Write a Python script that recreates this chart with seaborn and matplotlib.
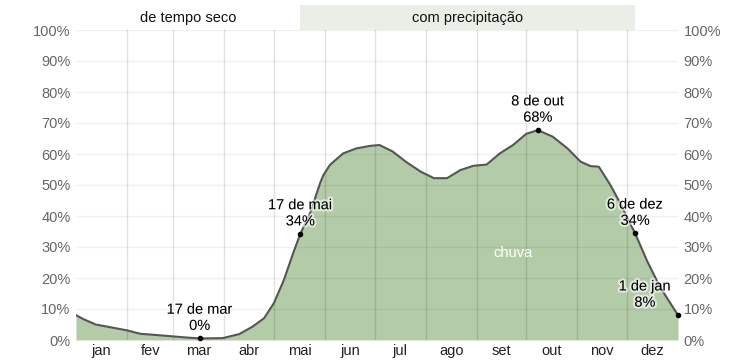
import matplotlib
matplotlib.use("Agg")
import matplotlib.pyplot as plt
import matplotlib.patheffects as pe
import matplotlib.transforms as mtransforms
import seaborn as sns
import pandas as pd

# day of year (0 = 1 jan) and chance of precipitation (%)
days = [0, 5, 12, 20, 31, 39, 49, 58, 67, 75, 89, 95, 99, 107, 114, 120, 126,
        132, 136, 142, 148, 150, 154, 162, 170, 178, 184, 192, 200, 209, 217,
        225, 233, 241, 249, 257, 265, 273, 280, 289, 298, 306, 312, 317, 324,
        330, 339, 346, 354, 365]
chance = [8.0, 6.6, 5.0, 4.2, 3.1, 2.0, 1.6, 1.2, 0.8, 0.5, 0.6, 1.4, 1.9, 4.3,
          7.0, 11.9, 19.3, 28.5, 34.2, 41.0, 50.6, 53.2, 56.5, 60.2, 61.8, 62.6,
          62.9, 60.8, 57.5, 54.3, 52.2, 52.2, 54.8, 56.2, 56.6, 60.2, 62.9, 66.5,
          67.7, 65.6, 61.8, 57.5, 56.1, 55.9, 50.0, 44.1, 34.4, 25.8, 17.2, 8.0]

months = ["jan", "fev", "mar", "abr", "mai", "jun", "jul", "ago", "set", "out", "nov", "dez"]
month_starts = [0, 31, 59, 90, 120, 151, 181, 212, 243, 273, 304, 334, 365]

# marked points: day, label
marks_day = [75, 136, 280, 339, 365]
marks_label = ["17 de mar\n0%", "17 de mai\n34%", "8 de out\n68%", "6 de dez\n34%", "1 de jan\n8%"]

wet_start, wet_end = 136, 339

df = pd.DataFrame({"day": days, "chance": chance})

plt.rcParams["font.family"] = ["Liberation Sans", "DejaVu Sans"]
fig = plt.figure(figsize=(7.53, 3.62), dpi=100)
ax = fig.add_axes([76 / 753, 1 - 340 / 362, 602 / 753, 310 / 362])

ax.fill_between(df["day"], 0, df["chance"], color="#b4cba8", lw=0, zorder=1)
sns.lineplot(data=df, x="day", y="chance", ax=ax, color="#555555", lw=1.5, zorder=3)

ax.set_xlim(0, 365)
ax.set_ylim(0, 100)
for s in ax.spines.values():
    s.set_visible(False)

# grid on top of the fill
for y in range(10, 101, 10):
    ax.axhline(y, color="black", alpha=0.06, lw=1, zorder=2)
for d in month_starts[1:-1]:
    ax.axvline(d, color="black", alpha=0.12, lw=1, zorder=2)

fs = 10.5
yt = list(range(0, 101, 10))
ax.set_yticks(yt)
ax.set_yticklabels([f"{v}%" for v in yt])
ax.tick_params(axis="y", length=0, pad=4, labelsize=fs, labelcolor="#666666",
               labelright=True, right=False)
centers = [(month_starts[i] + month_starts[i + 1]) / 2 for i in range(12)]
ax.set_xticks(centers)
ax.set_xticklabels(months)
ax.tick_params(axis="x", length=0, pad=3, labelsize=fs, labelcolor="#222222")
ax.set_xlabel("")
ax.set_ylabel("")

# season band on top
trans = mtransforms.blended_transform_factory(ax.transData, ax.transAxes)
ax.add_patch(plt.Rectangle((wet_start, 1.0), wet_end - wet_start, 25 / 310,
                           transform=trans, color="#e9efe6", lw=0, clip_on=False))
ax.text((wet_start + wet_end) / 2, 1 + 12 / 310, "com precipitação", transform=trans,
        ha="center", va="center", fontsize=fs, color="#111111")
ax.text(wet_start / 2, 1 + 12 / 310, "de tempo seco", transform=trans,
        ha="center", va="center", fontsize=fs, color="#111111")

halo = [pe.withStroke(linewidth=3, foreground="white", alpha=0.6)]
for d, lab in zip(marks_day, marks_label):
    v = chance[days.index(d)]
    ax.plot(d, v, "o", color="black", ms=3, zorder=4, clip_on=False)
    if d == 365:
        ax.annotate(lab, (d, v), xytext=(-5, 4), textcoords="offset points",
                    ha="right", va="bottom", fontsize=fs, linespacing=1.2,
                    multialignment="center", path_effects=halo, zorder=5)
    else:
        ax.annotate(lab, (d, v), xytext=(0, 4), textcoords="offset points",
                    ha="center", va="bottom", fontsize=fs, linespacing=1.2,
                    multialignment="center", path_effects=halo, zorder=5)

ax.text(265, 28, "chuva", ha="center", va="center", fontsize=fs, color="white", zorder=5)

fig.savefig("out.png", dpi=100)
